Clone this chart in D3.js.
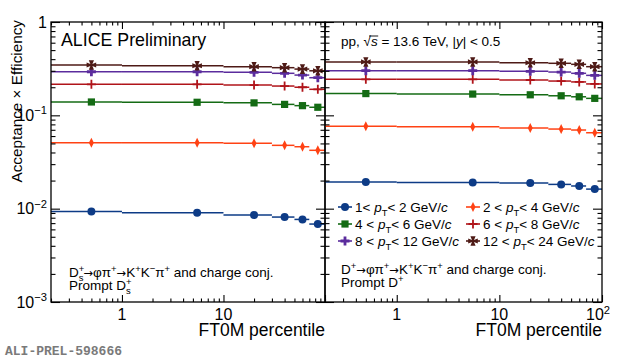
<!DOCTYPE html>
<html>
<head>
<meta charset="utf-8">
<script src="https://d3js.org/d3.v7.min.js"></script>
<style>
  body { margin: 0; background: #fff; }
  text { font-family: "Liberation Sans", Arial, sans-serif; fill: #000; }
</style>
</head>
<body>
<div id="d3"></div>
<script>
// FT0M percentile bins
const binLo = [0, 1, 10, 30, 50, 70];
const binHi = [1, 10, 30, 50, 70, 100];
const binMid = [0.5, 5.5, 20, 40, 60, 85];

// pT intervals (GeV/c)
const ptLow = [1, 2, 4, 6, 8, 12];
const ptHigh = [2, 4, 6, 8, 12, 24];

// Ds+ acceptance x efficiency
const dsPt1to2 = [0.00935, 0.00904, 0.00854, 0.00813, 0.00767, 0.00684];
const dsPt2to4 = [0.0509, 0.0508, 0.0501, 0.0477, 0.0461, 0.0422];
const dsPt4to6 = [0.139, 0.138, 0.136, 0.131, 0.127, 0.122];
const dsPt6to8 = [0.215, 0.215, 0.211, 0.206, 0.200, 0.190];
const dsPt8to12 = [0.293, 0.293, 0.289, 0.282, 0.270, 0.253];
const dsPt12to24 = [0.346, 0.340, 0.332, 0.324, 0.313, 0.300];

// D+ acceptance x efficiency
const dpPt1to2 = [0.0193, 0.0191, 0.0188, 0.0182, 0.0175, 0.0162];
const dpPt2to4 = [0.0762, 0.0755, 0.0731, 0.0713, 0.0696, 0.0651];
const dpPt4to6 = [0.171, 0.169, 0.166, 0.162, 0.158, 0.152];
const dpPt6to8 = [0.243, 0.243, 0.239, 0.233, 0.228, 0.217];
const dpPt8to12 = [0.301, 0.301, 0.296, 0.291, 0.282, 0.268];
const dpPt12to24 = [0.373, 0.373, 0.366, 0.361, 0.352, 0.332];

const xMajor = [1, 10, 100];
const yMajor = [0.001, 0.01, 0.1, 1];

const colors = ["#0d3b86", "#ff4214", "#146b14", "#b0141a", "#5b2c9d", "#4e1a16"];
const markers = [
  null, // circle, done with d3.symbol
  "M0,-5L2.5,0L0,5L-2.5,0Z",
  "M-3.6,-3.6h7.2v7.2h-7.2Z",
  "M-0.9,-4.5h1.8v3.6h3.6v1.8h-3.6v3.6h-1.8v-3.6h-3.6v-1.8h3.6Z",
  "M-1.4,-4.5h2.8v3.1h3.1v2.8h-3.1v3.1h-2.8v-3.1h-3.1v-2.8h3.1Z",
  "M-1,-1L-2.6,-4.8L2.6,-4.8L1,-1L4.8,-2.6L4.8,2.6L1,1L2.6,4.8L-2.6,4.8L-1,1L-4.8,2.6L-4.8,-2.6Z"
];
const circlePath = d3.symbol(d3.symbolCircle, Math.PI * 4 * 4)();

const W = 620, H = 358;
const svg = d3.select("#d3").append("svg").attr("width", W).attr("height", H);

const y = d3.scaleLog().domain([1e-3, 1]).range([302, 22]);
const panels = [
  { x: d3.scaleLog().domain([0.2, 100]).range([51, 325]),
    series: [dsPt1to2, dsPt2to4, dsPt4to6, dsPt6to8, dsPt8to12, dsPt12to24] },
  { x: d3.scaleLog().domain([0.2, 100]).range([325, 602]),
    series: [dpPt1to2, dpPt2to4, dpPt4to6, dpPt6to8, dpPt8to12, dpPt12to24] }
];

// rich text helper: parts are strings or {s, up, dn, it, dx, arrow}
function rich(g, x, yy, size, parts, anchor) {
  const t = g.append("text").attr("x", x).attr("y", yy)
    .attr("font-size", size + "px").attr("text-anchor", anchor || "start");
  let cur = 0;
  parts.forEach(p => {
    if (typeof p === "string") p = { s: p };
    const off = p.up ? -0.4 * size : p.dn ? 0.3 * size : 0;
    const ts = t.append("tspan").attr("dy", off - cur).text(p.s);
    if (p.up || p.dn) ts.attr("font-size", (0.7 * size) + "px");
    if (p.it) ts.attr("font-style", "italic");
    if (p.dx) ts.attr("dx", p.dx);
    if (p.arrow) ts.style("font-family", "'DejaVu Sans', sans-serif").attr("font-size", (0.85 * size) + "px");
    cur = off;
  });
  return t;
}

function marker(g, i, cx, cy) {
  g.append("path")
    .attr("d", i === 0 ? circlePath : markers[i])
    .attr("transform", `translate(${cx},${cy})`)
    .attr("fill", colors[i]);
}

panels.forEach((p, pi) => {
  const x = p.x;
  const [x0, x1] = x.range();
  const minor = x.ticks().filter(v => !xMajor.includes(v));
  const yMinor = y.ticks().filter(v => !yMajor.includes(v));

  const clipId = "clip" + pi;
  svg.append("clipPath").attr("id", clipId)
    .append("rect").attr("x", x0).attr("y", 22).attr("width", x1 - x0).attr("height", 280);

  const data = svg.append("g").attr("clip-path", `url(#${clipId})`);
  p.series.forEach((vals, si) => {
    data.selectAll(null).data(vals).enter().append("line")
      .attr("x1", (d, i) => x(Math.max(binLo[i], 0.2)))
      .attr("x2", (d, i) => x(binHi[i]))
      .attr("y1", d => y(d)).attr("y2", d => y(d))
      .attr("stroke", colors[si]).attr("stroke-width", 1.5);
    vals.forEach((v, i) => marker(data, si, x(binMid[i]), y(v)));
  });

  // ticks
  const ax = (axis, vals, size, tx, ty) => {
    const g = svg.append("g").attr("transform", `translate(${tx},${ty})`)
      .call(axis.tickValues(vals).tickSize(size).tickFormat(""));
    g.select(".domain").remove();
    g.selectAll("line").attr("stroke", "#000").attr("stroke-width", 1.1);
  };
  ax(d3.axisBottom(x), minor, -3.5, 0, 302);
  ax(d3.axisBottom(x), xMajor, -7, 0, 302);
  ax(d3.axisTop(x), minor, -3.5, 0, 22);
  ax(d3.axisTop(x), xMajor, -7, 0, 22);
  ax(d3.axisLeft(y), yMinor, -4.5, x0, 0);
  ax(d3.axisLeft(y), yMajor, -9, x0, 0);
  ax(d3.axisRight(y), yMinor, -4.5, x1, 0);
  ax(d3.axisRight(y), yMajor, -9, x1, 0);

  svg.append("rect").attr("x", x0).attr("y", 22).attr("width", x1 - x0).attr("height", 280)
    .attr("fill", "none").attr("stroke", "#000").attr("stroke-width", 1.3);

  // x tick labels
  const labs = pi === 0 ? [1, 10] : [1, 10, 100];
  labs.forEach(v => {
    if (v === 100) rich(svg, x(v) - 4, 320, 16, ["10", { s: "2", up: 1 }], "middle");
    else rich(svg, x(v), 320, 16, [String(v)], "middle");
  });

  svg.append("text").attr("x", x1).attr("y", 336).attr("font-size", "17.5px")
    .attr("text-anchor", "end").text("FT0M percentile");
});

// y tick labels
yMajor.forEach(v => {
  if (v === 1) rich(svg, 47, y(v) + 5.5, 16, ["1"], "end");
  else rich(svg, 47, y(v) + 5.5, 16, ["10", { s: "\u2212" + Math.round(-Math.log10(v)), up: 1 }], "end");
});

svg.append("text")
  .attr("transform", "translate(22,20) rotate(-90)")
  .attr("text-anchor", "end").attr("font-size", "15.3px")
  .text("Acceptance \u00d7 Efficiency");

svg.append("text").attr("x", 61).attr("y", 46).attr("font-size", "17.8px").text("ALICE Preliminary");

const sys = rich(svg, 341, 46, 13.5, ["pp, \u221a", { s: "s", it: 1 }, " = 13.6 TeV, |", { s: "y", it: 1 }, "| < 0.5"]);
const e4 = sys.node().getExtentOfChar(4), e5 = sys.node().getExtentOfChar(5);
svg.append("line")
  .attr("x1", e4.x + e4.width * 0.75).attr("x2", e5.x + e5.width + 0.5)
  .attr("y1", e4.y + 2).attr("y2", e4.y + 2)
  .attr("stroke", "#000").attr("stroke-width", 0.9);

// legend
const legX = [345, 473], legY = [207, 224, 241];
ptLow.forEach((lo, i) => {
  const cx = legX[i % 2], cy = legY[Math.floor(i / 2)];
  svg.append("line").attr("x1", cx - 7).attr("x2", cx + 7).attr("y1", cy).attr("y2", cy)
    .attr("stroke", colors[i]).attr("stroke-width", 1.6);
  marker(svg, i, cx, cy);
  rich(svg, cx + 10, cy + 5, 13.5,
    [(i === 0 ? lo + "< " : lo + " < "), { s: "p", it: 1 }, { s: "T", dn: 1 }, "< " + ptHigh[i] + " GeV/", { s: "c", it: 1 }]);
});

// decay channel texts
const arrow = { s: "\u2192", arrow: 1 };
rich(svg, 69, 277, 13.5, ["D", { s: "+", up: 1 }, { s: "s", dn: 1, dx: -5.5 }, arrow, "\u03c6\u03c0", { s: "+", up: 1 },
  arrow, "K", { s: "+", up: 1 }, "K", { s: "\u2212", up: 1 }, "\u03c0", { s: "+", up: 1 }, " and charge conj."]);
rich(svg, 69, 290, 13.5, ["Prompt D", { s: "+", up: 1 }, { s: "s", dn: 1, dx: -5.5 }]);
rich(svg, 341, 274, 13.5, ["D", { s: "+", up: 1 }, arrow, "\u03c6\u03c0", { s: "+", up: 1 },
  arrow, "K", { s: "+", up: 1 }, "K", { s: "\u2212", up: 1 }, "\u03c0", { s: "+", up: 1 }, " and charge conj."]);
rich(svg, 341, 287, 13.5, ["Prompt D", { s: "+", up: 1 }]);

svg.append("text").attr("x", 5).attr("y", 355)
  .style("font-family", "'Liberation Mono', 'DejaVu Sans Mono', monospace")
  .attr("font-weight", "bold").attr("font-size", "13px").style("fill", "#7a7a7a")
  .text("ALI-PREL-598666");
</script>
</body>
</html>
